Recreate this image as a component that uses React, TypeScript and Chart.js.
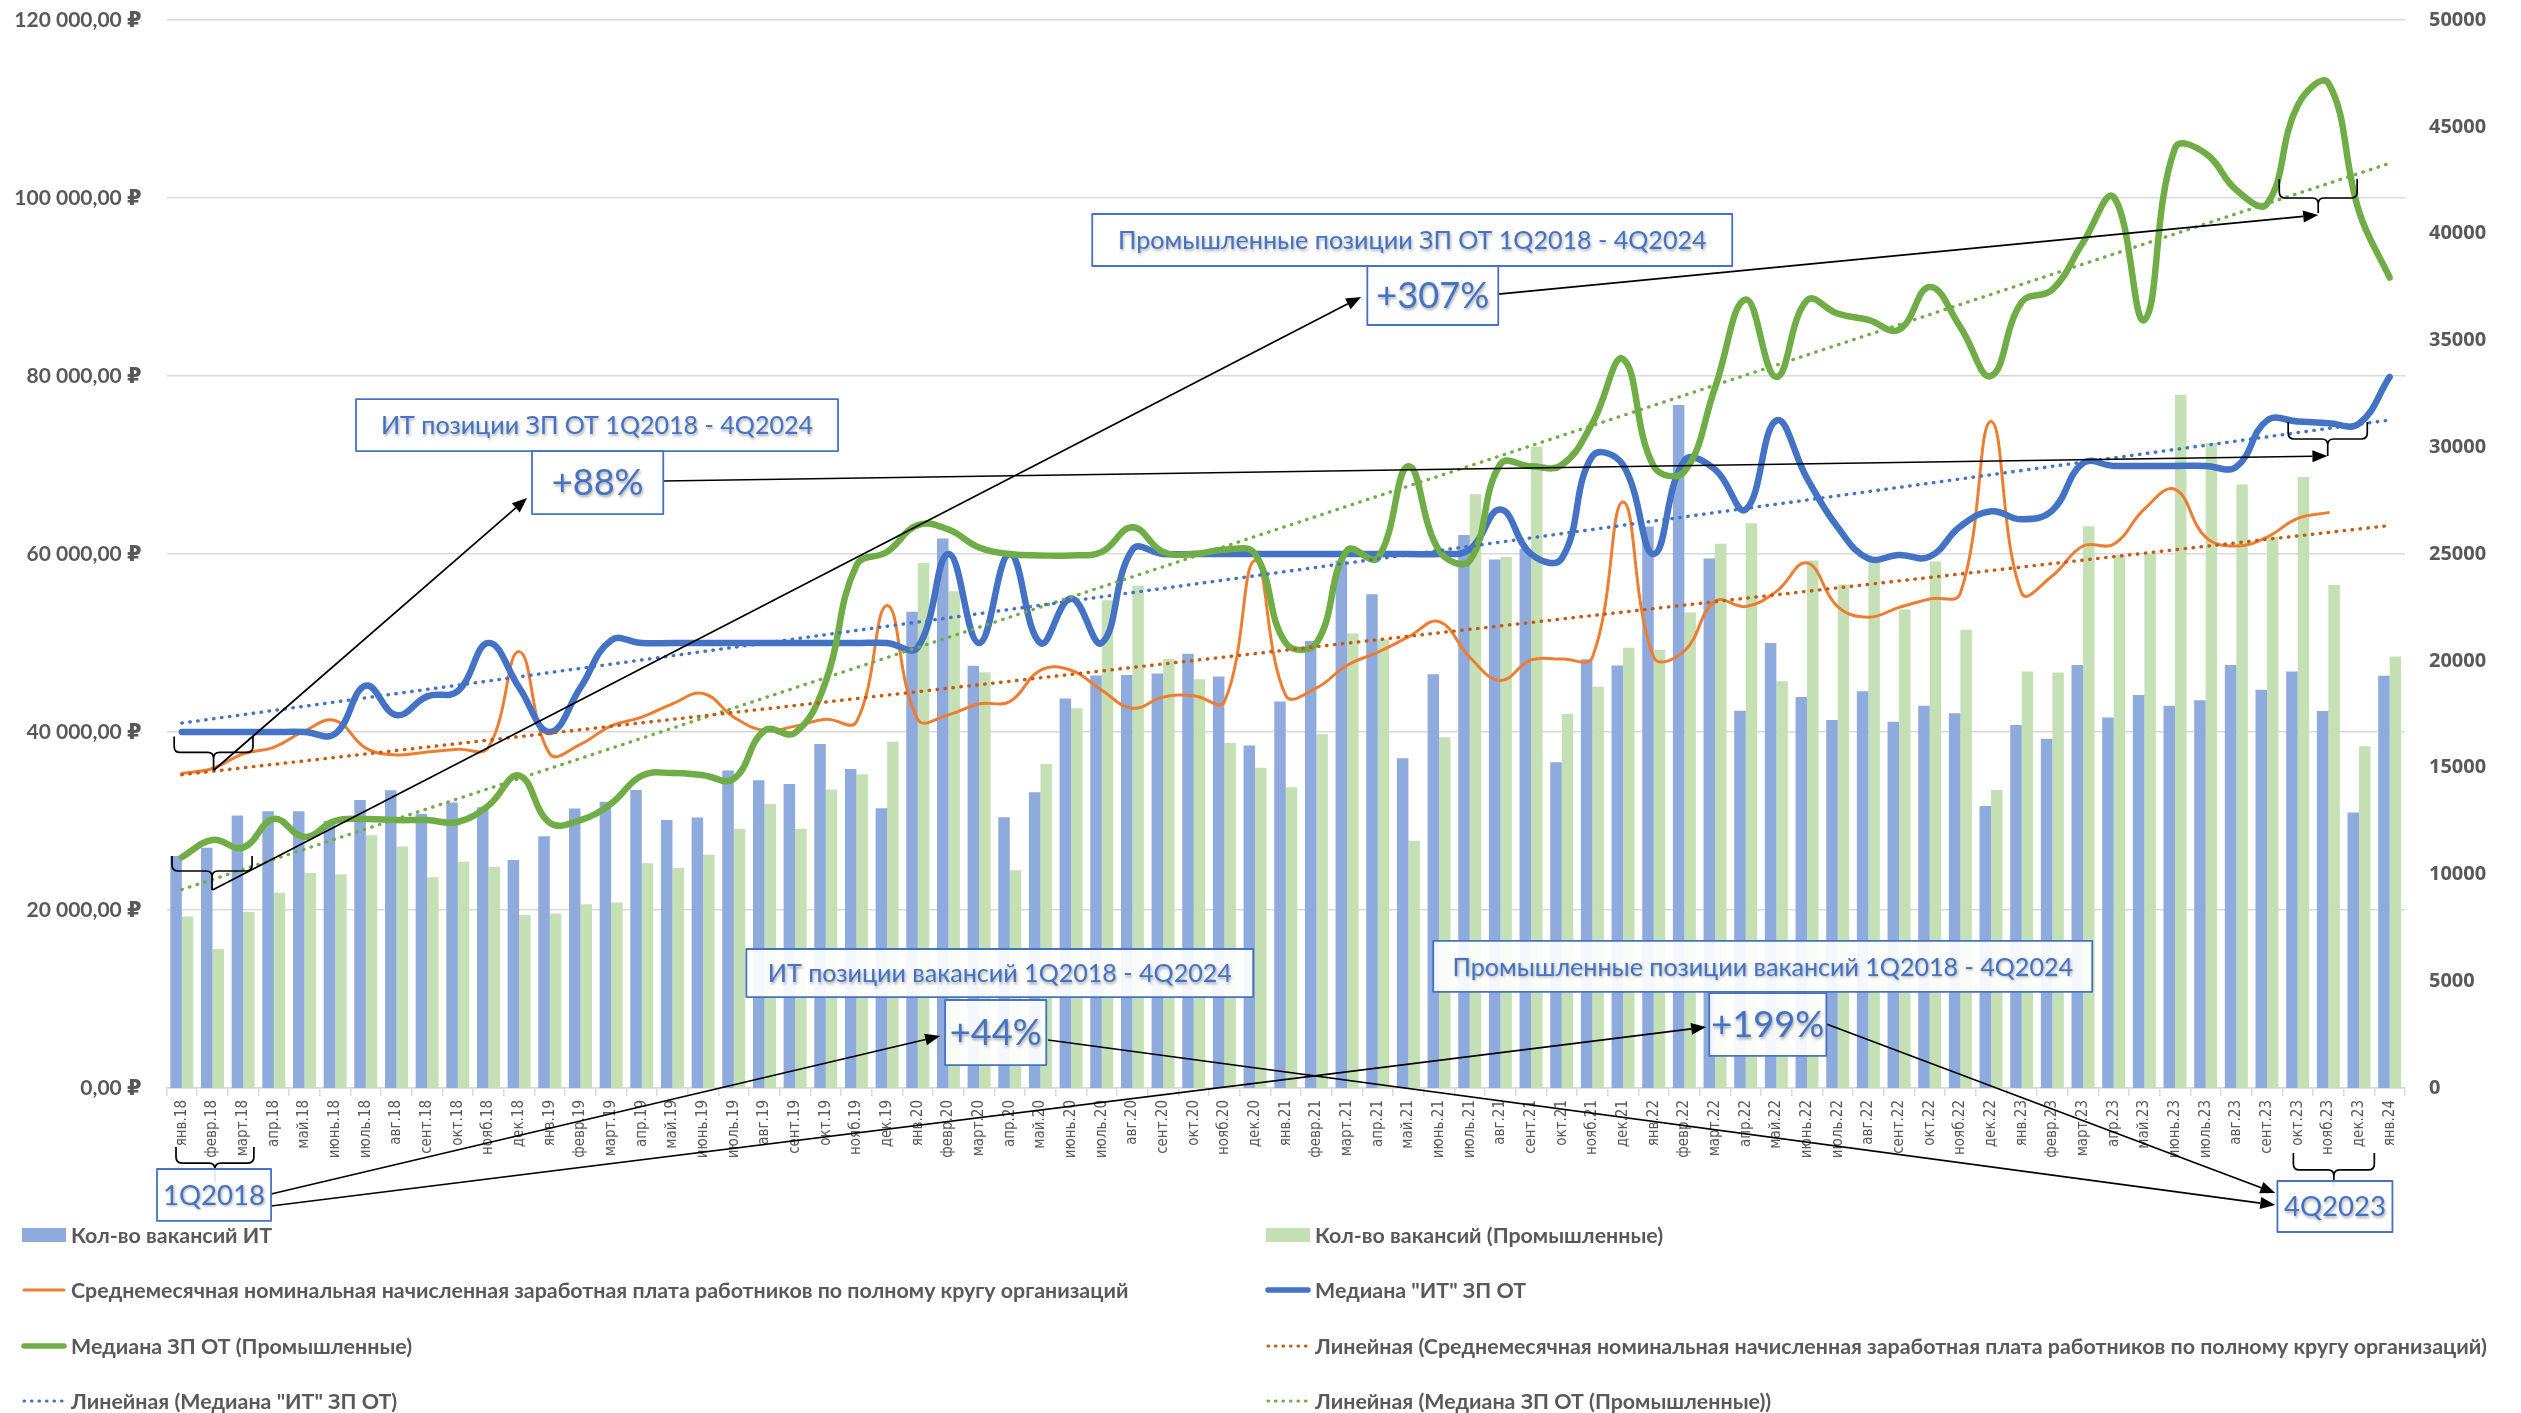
import React, { useEffect, useRef } from 'react';
import { Chart, registerables } from 'chart.js';

Chart.register(...registerables);

// ---------------- DATA ----------------
const categories = [
  'янв.18', 'февр.18', 'март.18', 'апр.18', 'май.18', 'июнь.18', 'июль.18', 'авг.18', 'сент.18', 'окт.18', 'нояб.18', 'дек.18',
  'янв.19', 'февр.19', 'март.19', 'апр.19', 'май.19', 'июнь.19', 'июль.19', 'авг.19', 'сент.19', 'окт.19', 'нояб.19', 'дек.19',
  'янв.20', 'февр.20', 'март.20', 'апр.20', 'май.20', 'июнь.20', 'июль.20', 'авг.20', 'сент.20', 'окт.20', 'нояб.20', 'дек.20',
  'янв.21', 'февр.21', 'март.21', 'апр.21', 'май.21', 'июнь.21', 'июль.21', 'авг.21', 'сент.21', 'окт.21', 'нояб.21', 'дек.21',
  'янв.22', 'февр.22', 'март.22', 'апр.22', 'май.22', 'июнь.22', 'июль.22', 'авг.22', 'сент.22', 'окт.22', 'нояб.22', 'дек.22',
  'янв.23', 'февр.23', 'март.23', 'апр.23', 'май.23', 'июнь.23', 'июль.23', 'авг.23', 'сент.23', 'окт.23', 'нояб.23', 'дек.23',
  'янв.24',
];

const itVacancies = [
  10860, 11250, 12760, 12960, 12960, 12510, 13480, 13940, 12830, 13370, 13140, 10680,
  11790, 13080, 13400, 13950, 12550, 12660, 14870, 14410, 14230, 16110, 14940, 13100,
  22300, 25730, 19770, 12680, 13850, 18240, 19310, 19330, 19410, 20330, 19270, 16040,
  18090, 20930, 24700, 23120, 15440, 19370, 25890, 24740, 25240, 15250, 20070, 19780,
  26290, 31970, 24790, 17660, 20830, 18300, 17230, 18580, 17150, 17900, 17550, 13200,
  17000, 16350, 19800, 17350, 18400, 17900, 18150, 19800, 18650, 19500, 17650, 12900,
  19300,
];

const industrialVacancies = [
  8030, 6510, 8240, 9140, 10070, 10000, 11830, 11310, 9870, 10590, 10360, 8100,
  8170, 8600, 8690, 10520, 10310, 10920, 12130, 13300, 12130, 13970, 14690, 16210,
  24580, 23260, 19460, 10190, 15170, 17780, 22840, 23510, 20080, 19140, 16150, 14990,
  14080, 16560, 21280, 21000, 11570, 16420, 27800, 24860, 30020, 17510, 18780, 20610,
  20520, 22260, 25480, 26440, 19040, 24700, 23570, 24750, 22400, 24650, 21450, 13950,
  19500, 19450, 26300, 24950, 25000, 32450, 30200, 28250, 25800, 28600, 23550, 16000,
  20200,
];

const avgSalary = [
  35350, 35900, 37550, 38280, 40130, 41290, 38190, 37420, 37760, 38060, 38280, 49030,
  37550, 38620, 40690, 41670, 43170, 44330, 41670, 40160, 40660, 41420, 41160, 54220,
  41420, 41920, 43170, 43420, 46940, 46940, 44680, 42670, 43920, 44080, 43420, 59260,
  44100, 44950, 47500, 48960, 50680, 52400, 48400, 45800, 48100, 48200, 48400, 65850,
  48400, 49100, 54700, 54100, 55800, 59000, 54100, 52900, 54000, 54950, 55600, 74900,
  55600, 57550, 60900, 61100, 65050, 67250, 61900, 60900, 61900, 64000, 64650, null,
  null,
];

const itMedian = [
  40000, 40000, 40000, 40000, 40000, 39800, 45200, 41900, 44000, 44600, 50000, 45000,
  40000, 45000, 50300, 50000, 50000, 50000, 50000, 50000, 50000, 50000, 50000, 50000,
  49500, 60000, 50000, 60000, 50000, 55000, 50000, 60500, 60000, 60000, 60000, 60000,
  60000, 60000, 60000, 60000, 60000, 60000, 60500, 65000, 60000, 59500, 71000, 70000,
  60000, 70500, 69500, 65000, 75000, 68500, 63000, 59500, 59900, 59700, 63100, 64800,
  63900, 64900, 70200, 69900, 69900, 69900, 69900, 69800, 75000, 74900, 74700, 74650,
  79900,
];

const industrialMedian = [
  25930, 27870, 27010, 30230, 28210, 30020, 30230, 30100, 30100, 29890, 31740, 35100,
  29800, 30100, 31950, 35100, 35390, 35140, 34740, 40160, 39910, 45680, 58730, 60240,
  63250, 62750, 60740, 59990, 59840, 59840, 60240, 63000, 60240, 59990, 60490, 60000,
  50000, 50000, 60400, 59550, 69860, 60400, 59260, 70100, 69860, 70000, 74700, 81900,
  69860, 69280, 78700, 88600, 79880, 88500, 87000, 86300, 85200, 90000, 85500, 80000,
  88300, 89700, 95000, 100100, 86300, 105600, 105000, 100900, 99350, 110400, 112900, 98500,
  91060,
];

// trend line end points (first month, last month)
const trendAvgSalary = [35200, 63200];
const trendItMedian = [41000, 75050];
const trendIndustrialMedian = [22300, 103900];

const salaryAxis = [0, 120000, 20000];
const countAxis = [0, 50000, 5000];

// ---------------- STYLE ----------------
const C = {
  itBar: '#8FAADC',
  indBar: '#C5E0B4',
  orange: '#ED7D31',
  orangeTrend: '#C55A11',
  blue: '#4472C4',
  green: '#70AD47',
  grid: '#D9D9D9',
  text: '#595959',
  note: '#4472C4',
};

const W = 2521;
const H = 1413;

const trendData = (ends: number[]) => categories.map((_, i) => (i === 0 ? ends[0] : i === categories.length - 1 ? ends[1] : null));

const rub = (v: number) => String(Math.round(v)).replace(/\B(?=(\d{3})+(?!\d))/g, ' ') + ',00 ₽';

// annotation anchors in (category index, salary value)
const noteBoxes = [
  { i0: 29.69, i1: 50.56, v0: 98200, v1: 92360, text: 'Промышленные позиции ЗП ОТ 1Q2018 - 4Q2024', kind: 'title' },
  { i0: 38.66, i1: 42.93, v0: 92360, v1: 85730, text: '+307%', kind: 'pct' },
  { i0: 5.68, i1: 21.40, v0: 77400, v1: 71570, text: 'ИТ позиции ЗП ОТ 1Q2018 - 4Q2024', kind: 'title' },
  { i0: 11.42, i1: 15.70, v0: 71570, v1: 64490, text: '+88%', kind: 'pct' },
  { i0: 18.41, i1: 34.94, v0: 15620, v1: 10220, text: 'ИТ позиции вакансий 1Q2018 - 4Q2024', kind: 'title' },
  { i0: 24.89, i1: 28.19, v0: 9890, v1: 2580, text: '+44%', kind: 'pct' },
  { i0: 40.81, i1: 62.30, v0: 16520, v1: 10790, text: 'Промышленные позиции вакансий 1Q2018 - 4Q2024', kind: 'title' },
  { i0: 49.81, i1: 53.63, v0: 10670, v1: 3600, text: '+199%', kind: 'pct' },
  { i0: -0.81, i1: 2.91, v0: -9100, v1: -14940, text: '1Q2018', kind: 'q' },
  { i0: 68.34, i1: 72.09, v0: -10450, v1: -16180, text: '4Q2023', kind: 'q' },
];

const braces = [
  { i0: -0.25, i1: 2.32, top: 39500, mid: 37700, tip: 35700 },
  { i0: -0.32, i1: 2.29, top: 26070, mid: 24380, tip: 22250 },
  { i0: -0.19, i1: 2.35, top: -6630, mid: -8430, tip: -10560 },
  { i0: 68.86, i1: 71.5, top: -7300, mid: -9210, tip: -11120 },
  { i0: 68.4, i1: 70.94, top: 102130, mid: 100000, tip: 98320 },
  { i0: 68.69, i1: 71.27, top: 74830, mid: 72920, tip: 71010 },
];

const arrows = [
  { a: [1.0, 22250], b: [38.46, 88880] },
  { a: [1.05, 35730], b: [11.26, 66290] },
  { a: [15.69, 68200], b: [69.97, 71010] },
  { a: [42.93, 89210], b: [69.67, 98090] },
  { a: [2.91, -11910], b: [24.73, 5840] },
  { a: [2.91, -13260], b: [49.71, 6850] },
  { a: [28.25, 5390], b: [68.27, -13150] },
  { a: [53.63, 7190], b: [68.27, -11800] },
];

const legendRows = [1235, 1290, 1346, 1401];
const legendCols = [
  { sym: 22, text: 71 },
  { sym: 1266, text: 1315 },
];

// ---------------- DRAW HELPERS ----------------
function drawBrace(ctx: CanvasRenderingContext2D, xl: number, xr: number, yt: number, ym: number, yp: number) {
  const xc = (xl + xr) / 2;
  const r = Math.min(6, Math.abs(ym - yt) * 0.5);
  ctx.beginPath();
  ctx.moveTo(xl, yt);
  ctx.lineTo(xl, ym - r);
  ctx.quadraticCurveTo(xl, ym, xl + r, ym);
  ctx.lineTo(xc - r, ym);
  ctx.quadraticCurveTo(xc, ym, xc, ym + r);
  ctx.lineTo(xc, yp);
  ctx.moveTo(xr, yt);
  ctx.lineTo(xr, ym - r);
  ctx.quadraticCurveTo(xr, ym, xr - r, ym);
  ctx.lineTo(xc + r, ym);
  ctx.quadraticCurveTo(xc, ym, xc, ym + r);
  ctx.stroke();
}

function drawArrow(ctx: CanvasRenderingContext2D, x1: number, y1: number, x2: number, y2: number) {
  const a = Math.atan2(y2 - y1, x2 - x1);
  const L = 15;
  const hw = 6;
  const bx = x2 - L * Math.cos(a);
  const by = y2 - L * Math.sin(a);
  ctx.beginPath();
  ctx.moveTo(x1, y1);
  ctx.lineTo(bx, by);
  ctx.stroke();
  ctx.beginPath();
  ctx.moveTo(x2, y2);
  ctx.lineTo(bx - hw * Math.sin(a), by + hw * Math.cos(a));
  ctx.lineTo(bx + hw * Math.sin(a), by - hw * Math.cos(a));
  ctx.closePath();
  ctx.fill();
}

function fitSize(ctx: CanvasRenderingContext2D, text: string, target: number, weight: string, family: string) {
  ctx.font = `${weight} 100px ${family}`;
  return (100 * target) / ctx.measureText(text).width;
}

const NOTE_FONT = 'Lato, "Open Sans", sans-serif';
const LEGEND_FONT = 'Lato, "DejaVu Sans", sans-serif';

const overlayPlugin = {
  id: 'overlay',
  afterDatasetsDraw(chart: any) {
    const ctx: CanvasRenderingContext2D = chart.ctx;
    const xs = chart.scales.x;
    const ys = chart.scales.ySalary;
    const X = (i: number) => xs.getPixelForValue(i);
    const Y = (v: number) => ys.getPixelForValue(v);
    ctx.save();
    ctx.strokeStyle = '#000';
    ctx.fillStyle = '#000';
    ctx.lineWidth = 1.7;
    ctx.lineJoin = 'round';
    for (const b of braces) drawBrace(ctx, X(b.i0), X(b.i1), Y(b.top), Y(b.mid), Y(b.tip));
    for (const ar of arrows) drawArrow(ctx, X(ar.a[0]), Y(ar.a[1]), X(ar.b[0]), Y(ar.b[1]));

    const titleSize = fitSize(ctx, noteBoxes[0].text, 589, 'normal', NOTE_FONT);
    const pctSize = fitSize(ctx, '+307%', 113, 'normal', NOTE_FONT);
    const qSize = fitSize(ctx, '1Q2018', 102, 'normal', NOTE_FONT);
    for (const nb of noteBoxes) {
      const x0 = X(nb.i0), x1 = X(nb.i1), y0 = Y(nb.v0), y1 = Y(nb.v1);
      ctx.fillStyle = 'rgba(255,255,255,0.9)';
      ctx.fillRect(x0, y0, x1 - x0, y1 - y0);
      ctx.strokeStyle = C.note;
      ctx.lineWidth = 1.8;
      ctx.strokeRect(x0, y0, x1 - x0, y1 - y0);
      const size = nb.kind === 'title' ? titleSize : nb.kind === 'pct' ? pctSize : qSize;
      ctx.font = `normal ${size}px ${NOTE_FONT}`;
      ctx.textAlign = 'center';
      ctx.textBaseline = 'middle';
      ctx.shadowColor = 'rgba(0,0,0,0.35)';
      ctx.shadowBlur = 3;
      ctx.shadowOffsetX = 1;
      ctx.shadowOffsetY = 1.5;
      ctx.fillStyle = C.note;
      ctx.fillText(nb.text, (x0 + x1) / 2, (y0 + y1) / 2 + 1);
      ctx.shadowColor = 'transparent';
      ctx.shadowBlur = 0;
      ctx.shadowOffsetX = 0;
      ctx.shadowOffsetY = 0;
    }
    ctx.restore();
  },
  afterDraw(chart: any) {
    const ctx: CanvasRenderingContext2D = chart.ctx;
    const ds = chart.data.datasets;
    // legend entries laid out as in the reference (two columns)
    const entries = [
      { d: ds[0], col: 0, row: 0, kind: 'bar' },
      { d: ds[1], col: 1, row: 0, kind: 'bar' },
      { d: ds[2], col: 0, row: 1, kind: 'line' },
      { d: ds[3], col: 1, row: 1, kind: 'line' },
      { d: ds[4], col: 0, row: 2, kind: 'line' },
      { d: ds[6], col: 1, row: 2, kind: 'dot' },
      { d: ds[5], col: 0, row: 3, kind: 'dot' },
      { d: ds[7], col: 1, row: 3, kind: 'dot' },
    ];
    ctx.save();
    const size = fitSize(ctx, ds[2].label, 1058, 'bold', LEGEND_FONT);
    for (const e of entries) {
      const y = legendRows[e.row];
      const sx = legendCols[e.col].sym;
      const tx = legendCols[e.col].text;
      if (e.kind === 'bar') {
        ctx.fillStyle = e.d.backgroundColor;
        ctx.fillRect(sx, y - 7, 44, 14);
      } else {
        ctx.strokeStyle = e.d.borderColor;
        ctx.lineWidth = e.kind === 'dot' ? 3.2 : Math.min(e.d.borderWidth, 5.5);
        ctx.lineCap = 'round';
        ctx.setLineDash(e.kind === 'dot' ? [0.5, 7] : []);
        ctx.beginPath();
        ctx.moveTo(sx + 2, y);
        ctx.lineTo(sx + 42, y);
        ctx.stroke();
        ctx.setLineDash([]);
      }
      ctx.fillStyle = C.text;
      ctx.font = `bold ${size}px ${LEGEND_FONT}`;
      ctx.textAlign = 'left';
      ctx.textBaseline = 'middle';
      ctx.fillText(e.d.label, tx, y + 1);
    }
    ctx.restore();
  },
};

export default function App() {
  const ref = useRef<HTMLCanvasElement>(null);

  useEffect(() => {
    document.body.style.margin = '0';
    const thick = { pointRadius: 0, pointHoverRadius: 0, tension: 0.42, borderCapStyle: 'round', borderJoinStyle: 'round', fill: false };
    const dotted = {
      pointRadius: 0,
      pointHoverRadius: 0,
      tension: 0,
      spanGaps: true,
      borderWidth: 3.4,
      borderDash: [0.5, 7.5],
      borderCapStyle: 'round',
      fill: false,
      yAxisID: 'ySalary',
      order: 0,
    };
    const chart = new Chart(ref.current as HTMLCanvasElement, {
      type: 'bar',
      data: {
        labels: categories,
        datasets: [
          {
            type: 'bar',
            label: 'Кол-во вакансий ИТ',
            data: itVacancies,
            backgroundColor: C.itBar,
            yAxisID: 'yCount',
            barPercentage: 1,
            categoryPercentage: 0.75,
            order: 10,
          },
          {
            type: 'bar',
            label: 'Кол-во вакансий (Промышленные)',
            data: industrialVacancies,
            backgroundColor: C.indBar,
            yAxisID: 'yCount',
            barPercentage: 1,
            categoryPercentage: 0.75,
            order: 10,
          },
          {
            type: 'line',
            label: 'Среднемесячная номинальная начисленная заработная плата работников по полному кругу организаций',
            data: avgSalary,
            borderColor: C.orange,
            backgroundColor: C.orange,
            borderWidth: 3,
            yAxisID: 'ySalary',
            order: 3,
            ...thick,
          },
          {
            type: 'line',
            label: 'Медиана "ИТ" ЗП ОТ',
            data: itMedian,
            borderColor: C.blue,
            backgroundColor: C.blue,
            borderWidth: 6.5,
            yAxisID: 'ySalary',
            order: 2,
            ...thick,
          },
          {
            type: 'line',
            label: 'Медиана ЗП ОТ (Промышленные)',
            data: industrialMedian,
            borderColor: C.green,
            backgroundColor: C.green,
            borderWidth: 6.5,
            yAxisID: 'ySalary',
            order: 1,
            ...thick,
          },
          {
            type: 'line',
            label: 'Линейная (Медиана "ИТ" ЗП ОТ)',
            data: trendData(trendItMedian),
            borderColor: C.blue,
            ...dotted,
          },
          {
            type: 'line',
            label: 'Линейная (Среднемесячная номинальная начисленная заработная плата работников по полному кругу организаций)',
            data: trendData(trendAvgSalary),
            borderColor: C.orangeTrend,
            ...dotted,
          },
          {
            type: 'line',
            label: 'Линейная (Медиана ЗП ОТ (Промышленные))',
            data: trendData(trendIndustrialMedian),
            borderColor: C.green,
            ...dotted,
          },
        ],
      } as any,
      options: {
        responsive: false,
        animation: false,
        devicePixelRatio: 1,
        layout: { padding: { top: 20, left: 0, right: 0, bottom: 0 } },
        plugins: { legend: { display: false }, tooltip: { enabled: false } },
        scales: {
          x: {
            type: 'category',
            offset: true,
            grid: { display: true, drawOnChartArea: false, drawTicks: true, tickLength: 8, color: C.grid, offset: true, lineWidth: 1.5 },
            border: { display: true, color: C.grid, width: 1.5 },
            ticks: {
              autoSkip: false,
              maxRotation: 90,
              minRotation: 90,
              padding: 4,
              color: C.text,
              font: { family: '"Liberation Sans Narrow", "DejaVu Sans Condensed", sans-serif', size: 15 },
            },
            afterFit: (s: any) => {
              s.height = H - 1088;
            },
          },
          ySalary: {
            type: 'linear',
            position: 'left',
            min: salaryAxis[0],
            max: salaryAxis[1],
            ticks: {
              stepSize: salaryAxis[2],
              padding: 25,
              color: C.text,
              font: { family: 'Lato, "DejaVu Sans", sans-serif', size: 21, weight: 'bold' },
              callback: (v: any) => rub(Number(v)),
            },
            grid: { color: C.grid, lineWidth: 1.5, drawTicks: false },
            border: { display: false },
            afterFit: (s: any) => {
              s.width = 166.5;
              s.paddingTop = 0;
              s.paddingBottom = 0;
            },
          },
          yCount: {
            type: 'linear',
            position: 'right',
            min: countAxis[0],
            max: countAxis[1],
            ticks: {
              stepSize: countAxis[2],
              padding: 24,
              color: C.text,
              font: { family: '"Open Sans", sans-serif', size: 20, weight: 'bold' },
              callback: (v: any) => String(v),
            },
            grid: { display: false, drawTicks: false },
            border: { display: false },
            afterFit: (s: any) => {
              s.width = W - 2405;
              s.paddingTop = 0;
              s.paddingBottom = 0;
            },
          },
        },
      } as any,
      plugins: [overlayPlugin],
    });
    return () => chart.destroy();
  }, []);

  return (
    <div style={{ width: W, height: H, position: 'relative', background: '#fff' }}>
      <canvas ref={ref} width={W} height={H} style={{ display: 'block', width: W, height: H }} />
    </div>
  );
}
